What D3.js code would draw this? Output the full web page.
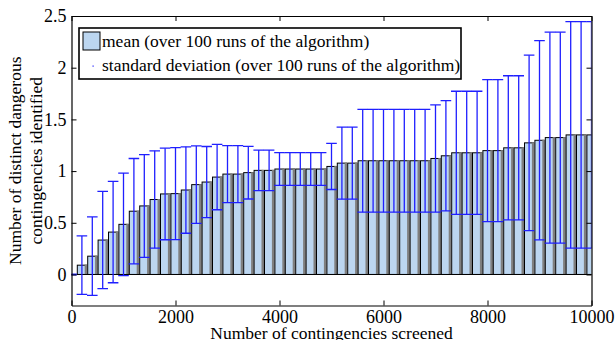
<!DOCTYPE html>
<html>
<head>
<style>
body { margin: 0; background: #fff; }
svg text { font-family: "Liberation Serif", "Times New Roman", serif; fill: #000; }
</style>
</head>
<body>
<svg id="chart" width="615" height="340"></svg>
<script src="https://d3js.org/d3.v7.min.js"></script>
<script>
// contingencies screened
var screened = [0, 200, 400, 600, 800, 1000, 1200, 1400, 1600, 1800,
  2000, 2200, 2400, 2600, 2800, 3000, 3200, 3400, 3600, 3800,
  4000, 4200, 4400, 4600, 4800, 5000, 5200, 5400, 5600, 5800,
  6000, 6200, 6400, 6600, 6800, 7000, 7200, 7400, 7600, 7800,
  8000, 8200, 8400, 8600, 8800, 9000, 9200, 9400, 9600, 9800, 10000];

// mean number of dangerous contingencies found
var meanFound = [0, 0.09, 0.177, 0.333, 0.41, 0.485, 0.612, 0.663, 0.725, 0.779,
  0.782, 0.817, 0.869, 0.894, 0.942, 0.971, 0.971, 0.985, 1.007, 1.007,
  1.02, 1.02, 1.02, 1.02, 1.02, 1.045, 1.077, 1.077, 1.1, 1.1,
  1.1, 1.1, 1.1, 1.1, 1.1, 1.122, 1.148, 1.177, 1.177, 1.177,
  1.198, 1.198, 1.225, 1.225, 1.273, 1.298, 1.324, 1.324, 1.35, 1.35, 1.35];

// standard deviation
var stdFound = [0, 0.283, 0.38, 0.47, 0.49, 0.496, 0.51, 0.497, 0.471, 0.443,
  0.445, 0.418, 0.374, 0.344, 0.316, 0.276, 0.276, 0.255, 0.196, 0.196,
  0.159, 0.159, 0.159, 0.159, 0.159, 0.223, 0.349, 0.349, 0.497, 0.497,
  0.497, 0.497, 0.497, 0.497, 0.497, 0.518, 0.533, 0.595, 0.595, 0.595,
  0.686, 0.686, 0.697, 0.697, 0.848, 0.963, 1.02, 1.02, 1.096, 1.096, 1.096];

var xTicks = [0, 2000, 4000, 6000, 8000, 10000];
var yTicks = [0, 0.5, 1, 1.5, 2, 2.5];

var svg = d3.select("#chart"),
    margin = {top: 16, left: 71.5},
    width = 520,
    height = 289.5,
    g = svg.append("g").attr("transform", "translate(" + margin.left + "," + margin.top + ")");

var x = d3.scaleLinear().domain([0, 10000]).range([0, width]);
var y = d3.scaleLinear().domain([-0.3, 2.5]).range([height, 0]);

var data = screened.map(function(s, i) {
  return {x: s, mean: meanFound[i], sd: stdFound[i]};
});

g.append("clipPath").attr("id", "plotclip")
  .append("rect").attr("width", width).attr("height", height);

var plot = g.append("g").attr("clip-path", "url(#plotclip)");

var half = 4.6;
var bars = plot.append("g").selectAll("g")
  .data(data.filter(function(d) { return d.mean > 0; }))
  .enter().append("g");

bars.append("rect")
  .attr("x", function(d) { return x(d.x) - half; })
  .attr("y", function(d) { return y(d.mean); })
  .attr("width", half * 2)
  .attr("height", function(d) { return y(0) - y(d.mean); })
  .attr("fill", "#bcd6f0")
  .attr("stroke", "#000")
  .attr("stroke-width", 1);

// grey shading on the right side of each bar
bars.append("rect")
  .attr("x", function(d) { return x(d.x) + half - 1.8; })
  .attr("y", function(d) { return y(d.mean) - 0.5; })
  .attr("width", 2.4)
  .attr("height", function(d) { return y(0) - y(d.mean) + 0.5; })
  .attr("fill", "#7f7f7f");

// baseline
plot.append("line")
  .attr("x1", 0).attr("x2", width)
  .attr("y1", y(0)).attr("y2", y(0))
  .attr("stroke", "#000").attr("stroke-width", 1);

// error bars
var cap = 5.3;
var err = plot.append("g").attr("stroke", "#1f1fff").attr("stroke-width", 1.3)
  .selectAll("g").data(data).enter().append("g");

err.append("line")
  .attr("x1", function(d) { return x(d.x); })
  .attr("x2", function(d) { return x(d.x); })
  .attr("y1", function(d) { return y(d.mean - d.sd); })
  .attr("y2", function(d) { return y(d.mean + d.sd); });

err.append("line")
  .attr("x1", function(d) { return x(d.x) - cap; })
  .attr("x2", function(d) { return x(d.x) + cap; })
  .attr("y1", function(d) { return y(d.mean + d.sd); })
  .attr("y2", function(d) { return y(d.mean + d.sd); });

err.append("line")
  .attr("x1", function(d) { return x(d.x) - cap; })
  .attr("x2", function(d) { return x(d.x) + cap; })
  .attr("y1", function(d) { return y(d.mean - d.sd); })
  .attr("y2", function(d) { return y(d.mean - d.sd); });

// axes box with inward ticks
g.append("g")
  .attr("transform", "translate(0," + height + ")")
  .call(d3.axisBottom(x).tickValues(xTicks).tickSizeInner(-5).tickSizeOuter(0).tickPadding(5)
    .tickFormat(d3.format("d")));
g.append("g")
  .call(d3.axisTop(x).tickValues(xTicks).tickSizeInner(-5).tickSizeOuter(0).tickFormat(""));
g.append("g")
  .call(d3.axisLeft(y).tickValues(yTicks).tickSizeInner(-5).tickSizeOuter(0).tickPadding(5)
    .tickFormat(d3.format("")));
g.append("g")
  .attr("transform", "translate(" + width + ",0)")
  .call(d3.axisRight(y).tickValues(yTicks).tickSizeInner(-5).tickSizeOuter(0).tickFormat(""));

g.selectAll(".domain").attr("stroke", "#000").attr("stroke-width", 1.2);
g.selectAll(".tick line").attr("stroke", "#000");
g.selectAll(".tick text").attr("font-size", 18);

// axis titles
svg.append("text")
  .attr("x", margin.left + width / 2)
  .attr("y", 338.5)
  .attr("text-anchor", "middle")
  .attr("font-size", 17.5)
  .text("Number of contingencies screened");

var yl = svg.append("text")
  .attr("transform", "translate(" + 0 + "," + (margin.top + height / 2) + ") rotate(-90)")
  .attr("text-anchor", "middle")
  .attr("font-size", 17.5);
yl.append("tspan").attr("x", 0).attr("y", 21).text("Number of distinct dangerous");
yl.append("tspan").attr("x", 0).attr("y", 42).text("contingencies identified");

// legend
var lg = svg.append("g").attr("transform", "translate(79,28)");
lg.append("rect")
  .attr("width", 382).attr("height", 51)
  .attr("fill", "#fff").attr("stroke", "#000").attr("stroke-width", 1.6);
lg.append("rect")
  .attr("x", 4).attr("y", 4).attr("width", 17).attr("height", 18)
  .attr("fill", "#bcd6f0").attr("stroke", "#000").attr("stroke-width", 1);
lg.append("text").attr("x", 23).attr("y", 19).attr("font-size", 17.5)
  .text("mean (over 100 runs of the algorithm)");
lg.append("rect")
  .attr("x", 13.5).attr("y", 37.5).attr("width", 1.2).attr("height", 1.2)
  .attr("fill", "#1f1fff");
lg.append("text").attr("x", 23).attr("y", 43).attr("font-size", 17.5)
  .text("standard deviation (over 100 runs of the algorithm)");
</script>
</body>
</html>
